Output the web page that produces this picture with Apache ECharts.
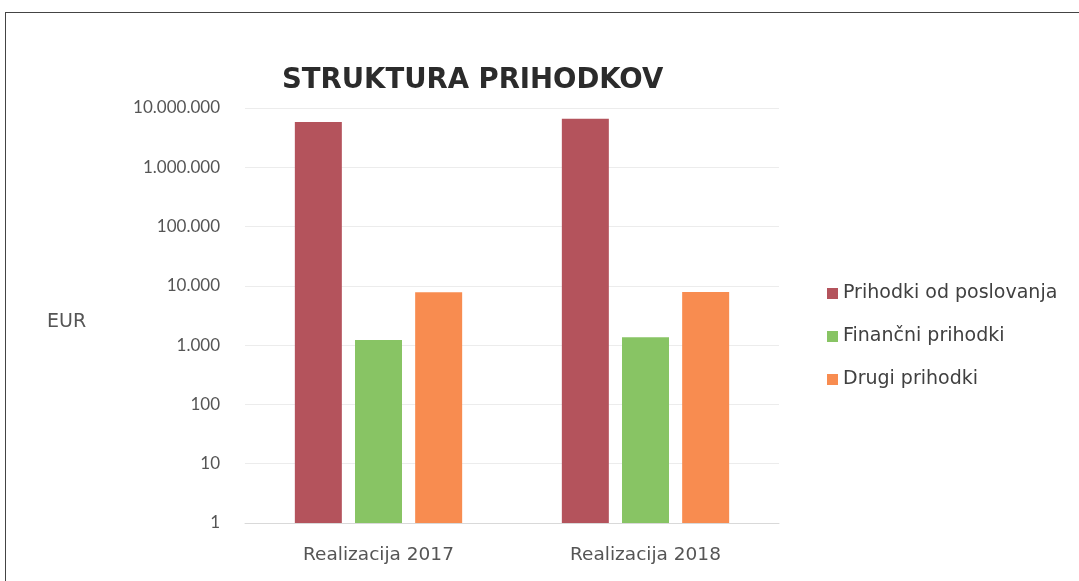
<!DOCTYPE html>
<html lang="sl">
	<head>
		<meta charset="utf-8" />
		<title>Struktura prihodkov</title>
	</head>
	<body>
		<div id="frame"><div id="chart-container"></div></div>
		<script src="https://cdn.jsdelivr.net/npm/echarts@6/dist/echarts.min.js"></script>
	</body>
	<style>
		* {
			margin: 0;
			padding: 0;
		}
		body {
			background: #fff;
		}
		#frame {
			position: absolute;
			left: 5px;
			top: 12px;
			width: 1080px;
			height: 580px;
			border-left: 1.5px solid #444;
			border-top: 1.5px solid #444;
		}
		#chart-container {
			position: absolute;
			left: -6.5px;
			top: -13.5px;
			width: 1079px;
			height: 581px;
		}
	</style>
	<script>
		var categories = ["Realizacija 2017", "Realizacija 2018"];
		var seriesNames = ["Prihodki od poslovanja", "Finančni prihodki", "Drugi prihodki"];
		var poslovanja = [5800000, 6600000];
		var financni = [1220, 1360];
		var drugi = [7800, 7900];
		var colors = ["#b4535c", "#88c464", "#f88c50"];

		var dom = document.getElementById("chart-container");
		var myChart = echarts.init(dom, null, { renderer: "canvas" });

		function fmt(v) {
			return String(Math.round(v)).replace(/\B(?=(\d{3})+(?!\d))/g, ".");
		}

		var font = "'DejaVu Sans', sans-serif";
		var values = [poslovanja, financni, drugi];
		var series = [];
		for (let i = 0; i < seriesNames.length; i++) {
			series.push({
				name: seriesNames[i],
				type: "bar",
				data: values[i],
				barWidth: 47,
				barGap: "28%",
				itemStyle: { color: colors[i] },
			});
		}

		var option = {
			animation: false,
			textStyle: { fontFamily: font },
			color: colors,
			title: {
				text: "STRUKTURA PRIHODKOV",
				left: 277,
				top: 62,
				textStyle: {
					fontFamily: font,
					fontSize: 27.5,
					fontWeight: "bold",
					color: "#2b2b2b",
				},
			},
			graphic: [
				{
					type: "text",
					left: 47,
					top: 313,
					style: { text: "EUR", fontSize: 19, fontFamily: font, fill: "#555" },
				},
			],
			legend: {
				orient: "vertical",
				left: 822,
				top: 279,
				itemWidth: 11,
				itemHeight: 11,
				itemGap: 24,
				icon: "rect",
				textStyle: { fontSize: 19, color: "#404040", fontFamily: font },
				data: seriesNames,
			},
			grid: {
				left: 245,
				right: 300,
				top: 108,
				bottom: 58,
			},
			xAxis: {
				type: "category",
				data: categories,
				axisTick: { show: false },
				axisLine: { lineStyle: { color: "#d9d9d9" } },
				axisLabel: {
					fontSize: 18.5,
					color: "#555",
					margin: 23,
					fontFamily: font,
				},
			},
			yAxis: {
				type: "log",
				logBase: 10,
				min: 1,
				max: 10000000,
				splitNumber: 7,
				axisLine: { show: false },
				axisTick: { show: false },
				splitLine: { lineStyle: { color: "#ececec" } },
				axisLabel: {
					fontSize: 17,
					color: "#555",
					margin: 25,
					fontFamily: "Lato, sans-serif",
					formatter: fmt,
				},
			},
			series: series,
		};

		myChart.setOption(option);
		window.addEventListener("resize", myChart.resize);
	</script>
</html>
